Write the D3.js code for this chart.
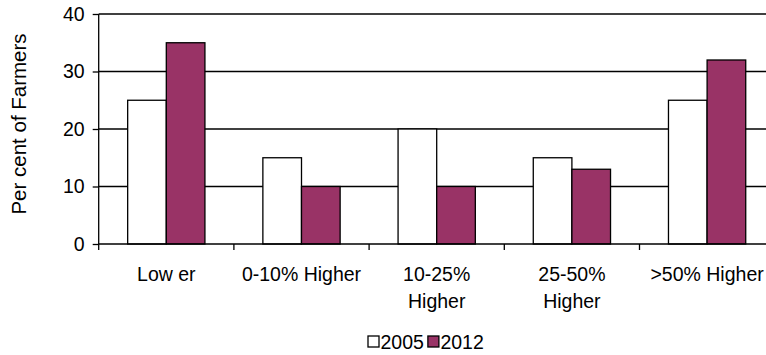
<!DOCTYPE html>
<html><head><meta charset="utf-8">
<script src="https://cdn.jsdelivr.net/npm/d3@7/dist/d3.min.js"></script>
<style>
html,body{margin:0;padding:0;background:#fff;}
svg{display:block;font-family:"Liberation Sans",Arial,sans-serif;}
</style></head>
<body>
<script>
const categories = ["Low er", "0-10% Higher", "10-25% Higher", "25-50% Higher", ">50% Higher"];
const categoryLines = [["Low er"], ["0-10% Higher"], ["10-25%", "Higher"], ["25-50%", "Higher"], [">50% Higher"]];
const seriesNames = ["2005", "2012"];
const values2005 = [25, 15, 20, 15, 25];
const values2012 = [35, 10, 10, 13, 32];
const yTicks = [0, 10, 20, 30, 40];
const yTitle = "Per cent of Farmers";
const colors = {"2005": "#ffffff", "2012": "#993366"};

const W = 766, H = 355;
const m = {left: 98.7, top: 14, right: 774.7, bottom: 244};
const FS = 19.5;

const svg = d3.select("body").append("svg").attr("width", W).attr("height", H);

const x0 = d3.scaleBand().domain(categories).range([m.left, m.right]).padding(0);
const x1 = d3.scaleBand().domain(seriesNames).range([0, x0.bandwidth()]).paddingInner(0).paddingOuter(0.75);
const y = d3.scaleLinear().domain([0, 40]).range([m.bottom, m.top]);

// gridlines
svg.append("g").selectAll("line").data(yTicks.filter(t => t > 0)).join("line")
  .attr("x1", m.left).attr("x2", m.right)
  .attr("y1", d => y(d)).attr("y2", d => y(d))
  .attr("stroke", "#000").attr("stroke-width", 1.3);

// bars
const rows = categories.map((c, i) => ({c, vals: [{s: "2005", v: values2005[i]}, {s: "2012", v: values2012[i]}]}));
const g = svg.append("g").selectAll("g").data(rows).join("g")
  .attr("transform", d => `translate(${x0(d.c)},0)`);
g.selectAll("rect").data(d => d.vals).join("rect")
  .attr("x", d => x1(d.s)).attr("width", x1.bandwidth())
  .attr("y", d => y(d.v)).attr("height", d => y(0) - y(d.v))
  .attr("fill", d => colors[d.s]).attr("stroke", "#000").attr("stroke-width", 1.3);

// y axis
const yAxis = svg.append("g").attr("transform", `translate(${m.left},0)`)
  .call(d3.axisLeft(y).tickValues(yTicks).tickSize(6).tickPadding(8).tickFormat(d3.format("d")));
yAxis.select(".domain").attr("stroke", "#000").attr("stroke-width", 1.3).attr("d", `M0,${m.top}V${m.bottom}`);
yAxis.selectAll(".tick line").attr("stroke", "#000").attr("stroke-width", 1.3);
yAxis.selectAll(".tick text").attr("font-size", FS).attr("font-family", "Liberation Sans, Arial, sans-serif").attr("fill", "#000");

// x axis line and boundary ticks
svg.append("line").attr("x1", m.left).attr("x2", m.right).attr("y1", y(0)).attr("y2", y(0))
  .attr("stroke", "#000").attr("stroke-width", 1.3);
svg.append("g").selectAll("line").data(categories).join("line")
  .attr("x1", d => x0(d)).attr("x2", d => x0(d))
  .attr("y1", y(0)).attr("y2", y(0) + 6)
  .attr("stroke", "#000").attr("stroke-width", 1.3);

// category labels
svg.append("g").selectAll("text").data(categories).join("text")
  .attr("x", d => x0(d) + x0.bandwidth() / 2)
  .attr("y", 281)
  .attr("text-anchor", "middle").attr("font-size", FS).attr("fill", "#000")
  .each(function(d, i) {
    const t = d3.select(this);
    categoryLines[i].forEach((ln, k) => {
      t.append("tspan").attr("x", x0(d) + x0.bandwidth() / 2).attr("dy", k === 0 ? 0 : 26.5).text(ln);
    });
  });

// y title
svg.append("text").attr("transform", `translate(26,124) rotate(-90)`)
  .attr("text-anchor", "middle").attr("font-size", 20.5).attr("fill", "#000").text(yTitle);

// legend
const lg = svg.append("g").attr("transform", "translate(368,336)");
let lx = 0;
seriesNames.forEach(s => {
  lg.append("rect").attr("x", lx).attr("y", 0).attr("width", 11).attr("height", 11)
    .attr("fill", colors[s]).attr("stroke", "#000").attr("stroke-width", 1.3);
  const t = lg.append("text").attr("x", lx + 12.5).attr("y", 12.5).attr("font-size", FS).attr("fill", "#000").text(s);
  lx += 12.5 + t.node().getComputedTextLength() + 4;
});
</script>
</body></html>
